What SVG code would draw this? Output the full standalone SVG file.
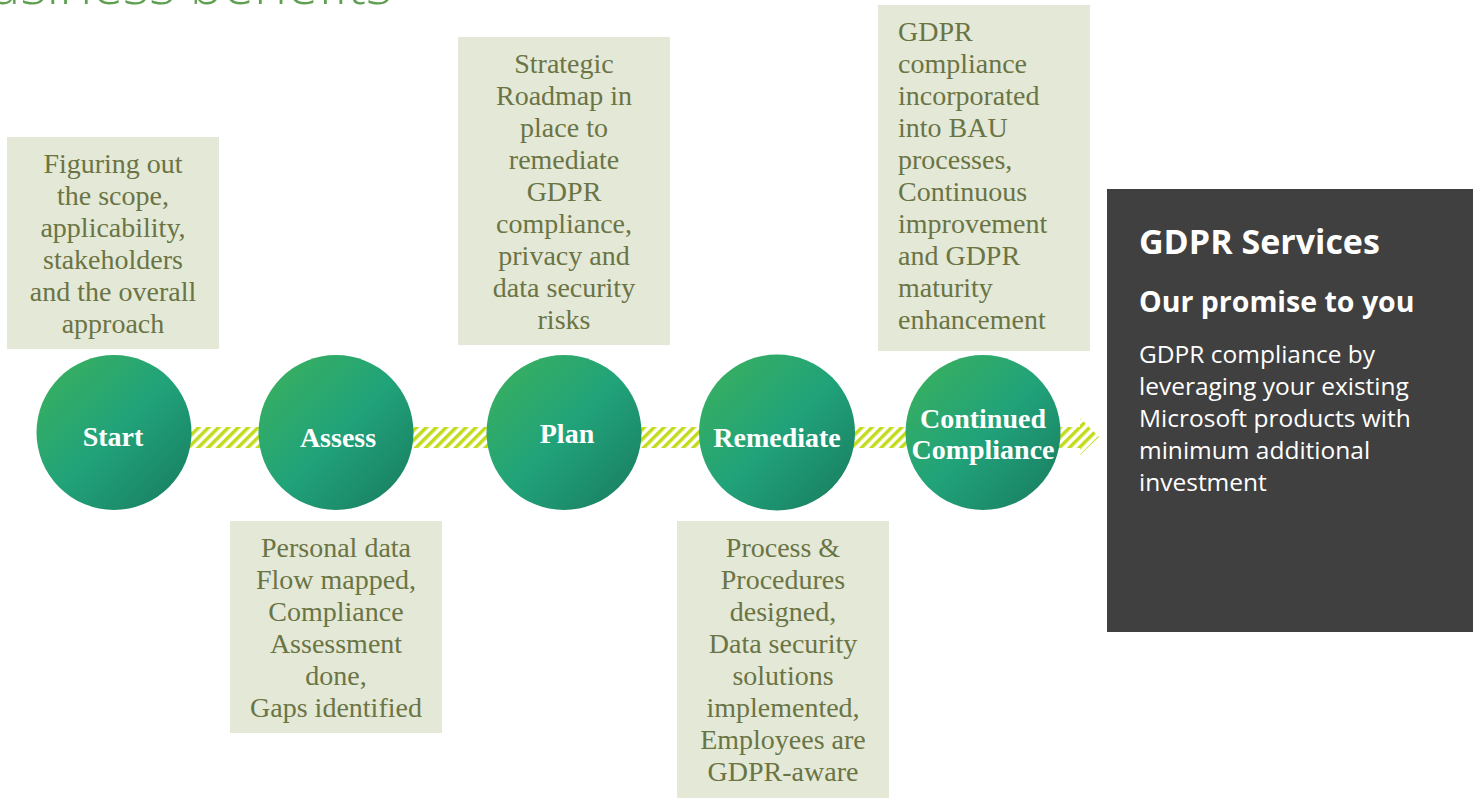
<svg xmlns="http://www.w3.org/2000/svg" width="1473" height="798" viewBox="0 0 1473 798">
<style>
.box{fill:#e4e8d6}
.bt{font-family:"Liberation Serif","Times New Roman",serif;font-size:28px;fill:#6a7445}
.c{text-anchor:middle}
.lbl{font-family:"Liberation Serif","Times New Roman",serif;font-size:28px;font-weight:bold;fill:#ffffff;text-anchor:middle}
.circ{fill:url(#g)}
.pt{font-family:"Open Sans","Noto Sans","Liberation Sans",sans-serif;fill:#ffffff}
</style>
<defs>
<linearGradient id="g" x1="0" y1="0" x2="1" y2="1">
<stop offset="0" stop-color="#3db15a"/>
<stop offset="0.5" stop-color="#21a37a"/>
<stop offset="1" stop-color="#187a5e"/>
</linearGradient>
<pattern id="hatch" patternUnits="userSpaceOnUse" width="7" height="7" patternTransform="rotate(45)">
<rect width="7" height="7" fill="#ffffff"/>
<rect width="3.5" height="7" fill="#c3db1c"/>
</pattern>
</defs>
<rect width="1473" height="798" fill="#ffffff"/>
<text x="392" y="4" text-anchor="end" font-family="'Open Sans','Noto Sans',sans-serif" font-weight="300" font-size="56" fill="#5f9f50">Business benefits</text>
<g id="connectors">
<polygon points="190,427 1080,427 1080,418 1099,437 1080,455 1080,448 190,448" fill="url(#hatch)"/>
</g>
<g id="start">
<circle class="circ" cx="114" cy="432.5" r="77.5"/>
<text class="lbl" x="113" y="446">Start</text>
</g>
<g id="assess">
<circle class="circ" cx="336" cy="432.5" r="77.5"/>
<text class="lbl" x="338" y="447">Assess</text>
</g>
<g id="plan">
<circle class="circ" cx="564" cy="432.5" r="77.5"/>
<text class="lbl" x="567" y="443">Plan</text>
</g>
<g id="remediate">
<circle class="circ" cx="777" cy="432.5" r="78"/>
<text class="lbl" x="777" y="447">Remediate</text>
</g>
<g id="continued">
<circle class="circ" cx="983" cy="432.5" r="77.5"/>
<text class="lbl" x="983" y="428">Continued</text>
<text class="lbl" x="983" y="459">Compliance</text>
</g>
<g id="start-note">
<rect class="box" x="7" y="137" width="212" height="212"/>
<text class="bt c" x="113" y="173">Figuring out</text>
<text class="bt c" x="113" y="205">the scope,</text>
<text class="bt c" x="113" y="237">applicability,</text>
<text class="bt c" x="113" y="269">stakeholders</text>
<text class="bt c" x="113" y="301">and the overall</text>
<text class="bt c" x="113" y="333">approach</text>
</g>
<g id="plan-note">
<rect class="box" x="458" y="37" width="212" height="308"/>
<text class="bt c" x="564" y="73">Strategic</text>
<text class="bt c" x="564" y="105">Roadmap in</text>
<text class="bt c" x="564" y="137">place to</text>
<text class="bt c" x="564" y="169">remediate</text>
<text class="bt c" x="564" y="201">GDPR</text>
<text class="bt c" x="564" y="233">compliance,</text>
<text class="bt c" x="564" y="265">privacy and</text>
<text class="bt c" x="564" y="297">data security</text>
<text class="bt c" x="564" y="329">risks</text>
</g>
<g id="continued-note">
<rect class="box" x="878" y="5" width="212" height="346"/>
<text class="bt" x="898" y="41">GDPR</text>
<text class="bt" x="898" y="73">compliance</text>
<text class="bt" x="898" y="105">incorporated</text>
<text class="bt" x="898" y="137">into BAU</text>
<text class="bt" x="898" y="169">processes,</text>
<text class="bt" x="898" y="201">Continuous</text>
<text class="bt" x="898" y="233">improvement</text>
<text class="bt" x="898" y="265">and GDPR</text>
<text class="bt" x="898" y="297">maturity</text>
<text class="bt" x="898" y="329">enhancement</text>
</g>
<g id="assess-note">
<rect class="box" x="230" y="521" width="212" height="212"/>
<text class="bt c" x="336" y="557">Personal data</text>
<text class="bt c" x="336" y="589">Flow mapped,</text>
<text class="bt c" x="336" y="621">Compliance</text>
<text class="bt c" x="336" y="653">Assessment</text>
<text class="bt c" x="336" y="685">done,</text>
<text class="bt c" x="336" y="717">Gaps identified</text>
</g>
<g id="remediate-note">
<rect class="box" x="677" y="521" width="212" height="277"/>
<text class="bt c" x="783" y="557">Process &amp;</text>
<text class="bt c" x="783" y="589">Procedures</text>
<text class="bt c" x="783" y="621">designed,</text>
<text class="bt c" x="783" y="653">Data security</text>
<text class="bt c" x="783" y="685">solutions</text>
<text class="bt c" x="783" y="717">implemented,</text>
<text class="bt c" x="783" y="749">Employees are</text>
<text class="bt c" x="783" y="781">GDPR-aware</text>
</g>
<g id="promise-panel">
<rect x="1107" y="189" width="366" height="443" fill="#404040"/>
<text class="pt" x="1139" y="254" font-size="34" font-weight="bold">GDPR Services</text>
<text class="pt" x="1139" y="312" font-size="28.5" font-weight="bold">Our promise to you</text>
<text class="pt" x="1139" y="363" font-size="24.5">GDPR compliance by</text>
<text class="pt" x="1139" y="395" font-size="24.5">leveraging your existing</text>
<text class="pt" x="1139" y="427" font-size="24.5">Microsoft products with</text>
<text class="pt" x="1139" y="459" font-size="24.5">minimum additional</text>
<text class="pt" x="1139" y="491" font-size="24.5">investment</text>
</g>
</svg>
